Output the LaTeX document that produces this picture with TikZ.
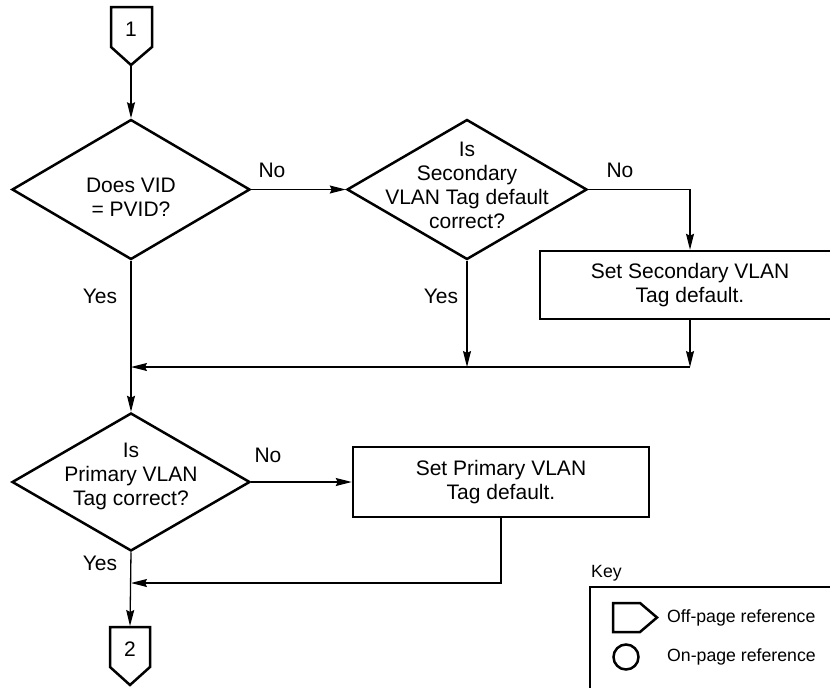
\documentclass[tikz,border=0pt]{standalone}
\usepackage{fontspec}
\setmainfont{Liberation Sans}
\usetikzlibrary{shapes.geometric,arrows.meta,calc}
\newcommand\mainfs{\fontsize{21}{24}\selectfont}
\newcommand\keyfs{\fontsize{17.7}{21}\selectfont}
\begin{document}
\begin{tikzpicture}[x=1pt,y=-1pt,
  shp/.style={draw, line width=2.5pt, line join=miter},
  dia/.style={shp, diamond, inner sep=0pt, minimum width=238pt, minimum height=140pt},
  box/.style={shp, rectangle, inner sep=0pt, align=center, font=\mainfs},
  txt/.style={align=center, font=\mainfs, inner sep=0pt},
  lbl/.style={font=\mainfs, inner sep=0pt},
  conn/.style={line width=1.3pt},
  arr/.style={conn, -{Stealth[length=16pt,width=8pt,inset=2pt]}},
  keylbl/.style={font=\keyfs, inner sep=0pt, anchor=west}
]
\clip (0,0) rectangle (830,688);

% off-page connector 1
\node[txt] (c1) at (131,29) {1};
\draw[shp] ($(c1)+(-20,-22)$) -- ($(c1)+(21,-22)$) -- ($(c1)+(21,18)$)
  -- ($(c1)+(0,36)$) -- ($(c1)+(-20,18)$) -- cycle;
\coordinate (c1tip) at ($(c1)+(0,36)$);

% decisions
\node[dia] (d1) at (131,189.5) {};
\node[txt] at (131,197) {Does VID\\= PVID?};
\node[dia, minimum width=240pt] (d2) at (467,189.5) {};
\node[txt] at (467,185) {Is\\Secondary\\VLAN Tag default\\correct?};
\node[dia, minimum height=138pt] (d3) at (131,482) {};
\node[txt] at (131,476) {Is\\Primary VLAN\\Tag correct?};

% processes
\node[box, minimum width=300pt, minimum height=68pt] (b1) at (690,285) {Set Secondary VLAN\\Tag default.};
\node[box, minimum width=296pt, minimum height=70pt] (b2) at (501,482) {Set Primary VLAN\\Tag default.};

% off-page connector 2
\node[txt] (c2) at (130,649) {2};
\draw[shp] ($(c2)+(-20,-22)$) -- ($(c2)+(20,-22)$) -- ($(c2)+(20,18)$)
  -- ($(c2)+(0,36)$) -- ($(c2)+(-20,18)$) -- cycle;
\coordinate (c2top) at ($(c2)+(0,-23)$);

% junctions
\coordinate (j1) at (131,367);
\coordinate (j2) at (131,583);

% connectors
\draw[arr] (c1tip) -- (d1.north);
\draw[arr] (d1.east) -- (d2.west);
\draw[arr] (d2.east) -| (b1.north);
\draw[arr] (d2.south) -- (d2.south |- j1);
\draw[arr] (b1.south) -- (b1.south |- j1);
\draw[arr] (b1.south |- j1) -- (j1);
\draw[arr] (d1.south) -- (d3.north);
\draw[arr] (d3.east) -- (b2.west);
\draw[arr] (b2.south) |- (j2);
\draw[arr] (d3.south) -- (c2top);

% labels
\node[lbl] at (272,170) {No};
\node[lbl] at (620,170) {No};
\node[lbl] at (100,296) {Yes};
\node[lbl] at (441,296) {Yes};
\node[lbl] at (268,455) {No};
\node[lbl] at (100,563) {Yes};

% key
\node[keylbl] (key) at (591,573) {Key};
\draw[line width=1.6pt] (590,700) -- (590,587) -- (840,587);
\draw[shp] (613,603) -- (640,603) -- (657,617.5) -- (640,632) -- (613,632) -- cycle;
\node[keylbl] (offp) at (667,618) {Off-page reference};
\draw[line width=2.5pt] (626,657) circle (12.5);
\node[keylbl] (onp) at (667,657) {On-page reference};
\end{tikzpicture}
\end{document}
